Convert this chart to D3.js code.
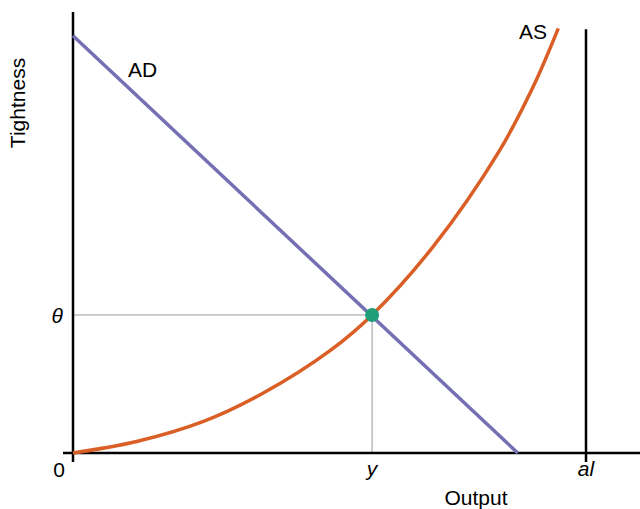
<!DOCTYPE html>
<html>
<head>
<meta charset="utf-8">
<script src="https://cdn.jsdelivr.net/npm/d3@7"></script>
<style>
  body { margin: 0; background: #fff; }
  text { font-family: "Liberation Sans", Arial, sans-serif; fill: #000; }
  .tick { font-size: 21px; }
  .lbl { font-size: 21px; }
</style>
</head>
<body>
<div id="chart"></div>
<script>
// curve samples (both axes run 0..100)
var asX = [0, 12.4, 25.3, 37.1, 50.1, 58.3, 70.2, 83.2, 89.6, 94.6];
var asY = [0, 2.6, 7.1, 13.6, 23.2, 31.3, 46.8, 68.7, 82.8, 96.3];
var adX = [0, 86.7];
var adY = [94.6, 0];
var eqX = 58.3, eqY = 31.3;
var alX = 100, alTop = 96.1;
var xTickLabels = ["y", "al"];
var xTickValues = [eqX, alX];

var width = 640, height = 509;

var x = d3.scaleLinear().domain([0, 100]).range([73, 586]);
var y = d3.scaleLinear().domain([0, 100]).range([453, 12]);

var svg = d3.select("#chart").append("svg")
    .attr("width", width)
    .attr("height", height);

// guide lines to the equilibrium
svg.append("line")
    .attr("x1", x(0)).attr("x2", x(eqX))
    .attr("y1", y(eqY)).attr("y2", y(eqY))
    .attr("stroke", "#999").attr("stroke-width", 1);
svg.append("line")
    .attr("x1", x(eqX)).attr("x2", x(eqX))
    .attr("y1", y(eqY)).attr("y2", y(0))
    .attr("stroke", "#999").attr("stroke-width", 1);

// axes
svg.append("line")
    .attr("x1", x(0)).attr("x2", x(0))
    .attr("y1", y(100)).attr("y2", y(0) + 9)
    .attr("stroke", "#000").attr("stroke-width", 2.5);
svg.append("line")
    .attr("x1", x(0) - 10).attr("x2", width)
    .attr("y1", y(0)).attr("y2", y(0))
    .attr("stroke", "#000").attr("stroke-width", 2.5);

// al limit
svg.append("line")
    .attr("x1", x(alX)).attr("x2", x(alX))
    .attr("y1", y(alTop)).attr("y2", y(0) + 9)
    .attr("stroke", "#000").attr("stroke-width", 2.5);

// AD
var line = d3.line().x(function (d) { return x(d[0]); }).y(function (d) { return y(d[1]); });
svg.append("path")
    .datum(d3.zip(adX, adY))
    .attr("d", line)
    .attr("fill", "none")
    .attr("stroke", "#7570b3")
    .attr("stroke-width", 3.5);

// AS
svg.append("path")
    .datum(d3.zip(asX, asY))
    .attr("d", line.curve(d3.curveCatmullRom.alpha(0.5)))
    .attr("fill", "none")
    .attr("stroke", "#d95f26")
    .attr("stroke-width", 3.5);

// equilibrium point
svg.append("circle")
    .attr("cx", x(eqX)).attr("cy", y(eqY))
    .attr("r", 7)
    .attr("fill", "#1f9e77");

// tick labels
svg.append("text").attr("class", "tick")
    .attr("x", x(0) - 8).attr("y", y(0) + 24)
    .attr("text-anchor", "end").text("0");
svg.selectAll(".xlab")
    .data(xTickValues)
    .enter().append("text")
    .attr("class", "tick xlab")
    .attr("x", function (d) { return x(d); })
    .attr("y", y(0) + 23)
    .attr("text-anchor", "middle")
    .style("font-style", "italic")
    .text(function (d, i) { return xTickLabels[i]; });
svg.append("text").attr("class", "tick")
    .attr("x", x(0) - 10).attr("y", y(eqY) + 8)
    .attr("text-anchor", "end")
    .style("font-style", "italic")
    .text("θ");

// curve labels
svg.append("text").attr("class", "lbl")
    .attr("x", 128).attr("y", 77).text("AD");
svg.append("text").attr("class", "lbl")
    .attr("x", 519).attr("y", 39).text("AS");

// axis titles
svg.append("text").attr("class", "lbl")
    .attr("x", 476).attr("y", 505)
    .attr("text-anchor", "middle").text("Output");
svg.append("text").attr("class", "lbl")
    .attr("transform", "translate(25,103) rotate(-90)")
    .attr("text-anchor", "middle").text("Tightness");
</script>
</body>
</html>
